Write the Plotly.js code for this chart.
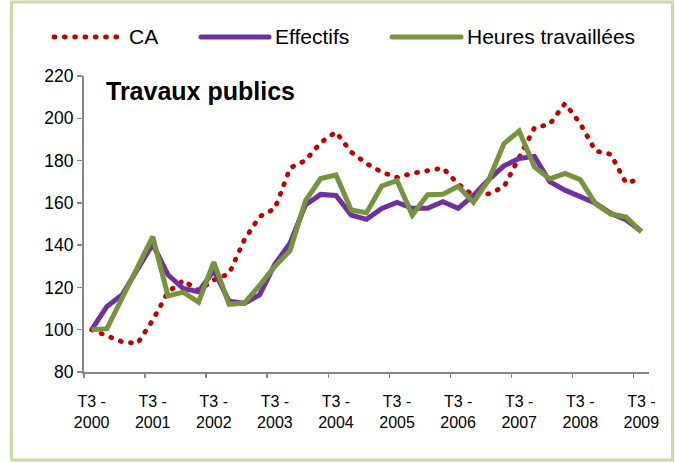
<!DOCTYPE html>
<html>
<head>
<meta charset="utf-8">
<script src="https://cdn.plot.ly/plotly-3.0.1.min.js"></script>
<style>
html,body{margin:0;padding:0;background:#fff;}
#chart{width:675px;height:462px;}
</style>
</head>
<body>
<div id="chart"></div>
<script>
// Quarterly periods T3-2000 ... T3-2009
const periods = [
  "T3 2000","T4 2000","T1 2001","T2 2001","T3 2001","T4 2001","T1 2002","T2 2002","T3 2002","T4 2002",
  "T1 2003","T2 2003","T3 2003","T4 2003","T1 2004","T2 2004","T3 2004","T4 2004","T1 2005","T2 2005",
  "T3 2005","T4 2005","T1 2006","T2 2006","T3 2006","T4 2006","T1 2007","T2 2007","T3 2007","T4 2007",
  "T1 2008","T2 2008","T3 2008","T4 2008","T1 2009","T2 2009","T3 2009"
];
const tickPeriods = ["T3 2000","T3 2001","T3 2002","T3 2003","T3 2004","T3 2005","T3 2006","T3 2007","T3 2008","T3 2009"];
const tickLabels = ["T3 -<br>2000","T3 -<br>2001","T3 -<br>2002","T3 -<br>2003","T3 -<br>2004","T3 -<br>2005","T3 -<br>2006","T3 -<br>2007","T3 -<br>2008","T3 -<br>2009"];

const caValues = [100, 97.3, 94.3, 93.5, 104.5, 117.8, 123.3, 118.5, 123.5, 126.5,
  142.5, 153.5, 157.3, 176.5, 180, 188.5, 193.5, 184, 178.6, 174.5,
  172, 174, 175.3, 176.5, 168.9, 163.5, 164.3, 167.5, 181.5, 195.5,
  197.2, 207, 197.5, 184.5, 183, 169.3, 171.5];
const effectifsValues = [100, 111, 116.5, 129, 140.5, 126, 119.5, 118, 128, 113.5,
  112.5, 116.5, 131, 141, 159, 164, 163.5, 154.2, 152.2, 157.4,
  160.2, 157.4, 157.4, 160.5, 157.4, 163.5, 171, 177.5, 181, 182,
  170, 166, 163.2, 159.8, 155, 152, 146.5];
const heuresValues = [100, 100.5, 115, 129.5, 144, 116, 117.8, 113, 132, 112,
  112.6, 121, 130, 137.5, 161, 171.5, 173.2, 156.6, 155.3, 168,
  170.5, 154.2, 163.8, 164.1, 167.8, 160.3, 170.8, 188, 194, 177,
  171.3, 173.9, 171, 159.5, 154.7, 153.3, 146.4];

const seriesNames = ["CA", "Effectifs", "Heures travaillées"];
const chartTitle = "Travaux publics";
const yTicks = [80, 100, 120, 140, 160, 180, 200, 220];

const RED = "#c00000", PURPLE = "#7030a0", GREEN = "#77933c";
const FONT = "Liberation Sans, Arial, sans-serif";

// tick mark positions between categories (every 4 quarters)
const boundaryTicks = tickPeriods.map(p => periods.indexOf(p) - 0.5);

const traces = [
  {x: periods, y: caValues, name: seriesNames[0], type: "scatter", mode: "lines",
   line: {color: RED, width: 4.8, dash: "1px,9.3px"}, showlegend: false},
  {x: periods, y: effectifsValues, name: seriesNames[1], type: "scatter", mode: "lines",
   line: {color: PURPLE, width: 5}, showlegend: false},
  {x: periods, y: heuresValues, name: seriesNames[2], type: "scatter", mode: "lines",
   line: {color: GREEN, width: 5}, showlegend: false}
];

// plot area: x 84..649, y 76..372 (px)
const PL = 84, PR = 649, PT = 76, PB = 372;
const px = v => (v - PL) / (PR - PL);
const py = v => (PB - v) / (PB - PT);

const legY = py(37);
const shapes = [
  {type: "rect", xref: "paper", yref: "paper", x0: px(11.5), x1: px(672.5), y0: py(460), y1: py(2),
   line: {color: "#c9dba6", width: 3}, fillcolor: "rgba(0,0,0,0)", layer: "below"},
  {type: "line", xref: "paper", yref: "paper", x0: px(54), x1: px(118), y0: legY, y1: legY,
   line: {color: RED, width: 4.8, dash: "1px,9.3px"}},
  {type: "line", xref: "paper", yref: "paper", x0: px(201), x1: px(269), y0: legY, y1: legY,
   line: {color: PURPLE, width: 5}},
  {type: "line", xref: "paper", yref: "paper", x0: px(392), x1: px(461), y0: legY, y1: legY,
   line: {color: GREEN, width: 5}}
];

const annotations = [
  {text: "<b>" + chartTitle + "</b>", xref: "paper", yref: "paper", x: px(104), y: py(91),
   xanchor: "left", yanchor: "middle", showarrow: false, font: {family: FONT, size: 25, color: "#000"}},
  {text: seriesNames[0], xref: "paper", yref: "paper", x: px(127), y: legY,
   xanchor: "left", yanchor: "middle", showarrow: false, font: {family: FONT, size: 21, color: "#000"}},
  {text: seriesNames[1], xref: "paper", yref: "paper", x: px(273), y: legY,
   xanchor: "left", yanchor: "middle", showarrow: false, font: {family: FONT, size: 21, color: "#000"}},
  {text: seriesNames[2], xref: "paper", yref: "paper", x: px(465), y: legY,
   xanchor: "left", yanchor: "middle", showarrow: false, font: {family: FONT, size: 21, color: "#000"}}
];

const layout = {
  width: 675, height: 462,
  margin: {l: PL, r: 675 - PR, t: PT, b: 462 - PB, pad: 0},
  paper_bgcolor: "#ffffff", plot_bgcolor: "#ffffff",
  showlegend: false,
  font: {family: FONT, size: 16, color: "#000"},
  xaxis: {type: "category", categoryorder: "array", categoryarray: periods,
    range: [-0.5, periods.length - 0.5], fixedrange: true,
    tickmode: "array", tickvals: tickPeriods, ticktext: tickLabels,
    ticks: "", showgrid: false, zeroline: false, showline: true,
    linecolor: "#868686", linewidth: 2, ticklabelstandoff: 14,
    tickfont: {family: FONT, size: 16, color: "#000"}, automargin: false, tickangle: 0},
  xaxis2: {overlaying: "x", anchor: "y", side: "bottom", range: [-0.5, periods.length - 0.5],
    tickmode: "array", tickvals: boundaryTicks, showticklabels: false,
    ticks: "outside", ticklen: 5, tickwidth: 1.5, tickcolor: "#868686",
    showgrid: false, zeroline: false, showline: false, automargin: false},
  yaxis: {range: [80, 220], tickmode: "array", tickvals: yTicks, ticks: "outside", ticklen: 5,
    tickwidth: 1.5, tickcolor: "#868686", showgrid: false, zeroline: false, showline: true,
    linecolor: "#868686", linewidth: 2, fixedrange: true,
    tickfont: {family: FONT, size: 17.5, color: "#000"}, automargin: false},
  shapes: shapes,
  annotations: annotations
};

// empty trace that only activates the tick-mark axis xaxis2 (no visible marks)
traces.push({x: [], y: [], xaxis: "x2", yaxis: "y", type: "scatter", mode: "lines", showlegend: false, hoverinfo: "skip"});

Plotly.newPlot("chart", traces, layout, {staticPlot: true}).then(() => {
  const tr = document.querySelectorAll(".scatterlayer .trace");
  if (tr.length) tr[0].querySelectorAll("path.js-line").forEach(p => p.style.strokeLinecap = "round");
  document.querySelectorAll(".shapelayer path").forEach(p => { p.style.strokeLinecap = "round"; });
});
</script>
</body>
</html>
